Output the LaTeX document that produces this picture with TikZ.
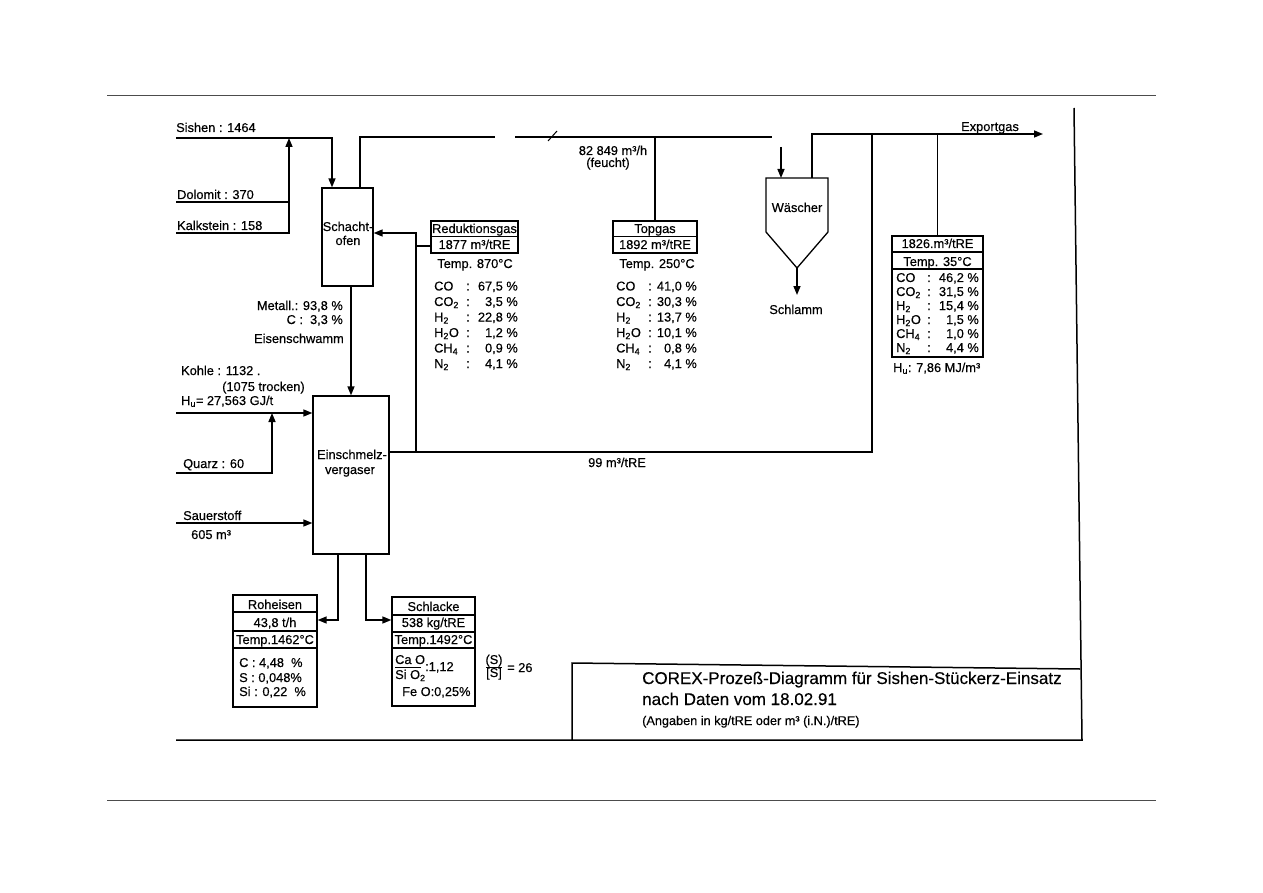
\documentclass[tikz,border=0pt]{standalone}
\usepackage{fontspec}
\setmainfont{Liberation Sans}[FakeBold=0.35]
\usetikzlibrary{arrows.meta}
\begin{document}
\begin{tikzpicture}[x=1pt,y=-1pt,
  ln/.style={line width=1.5pt},
  arr/.style={line width=1.5pt,-{Triangle[length=9pt,width=7pt]}},
  bx/.style={draw,line width=1.3pt,inner sep=0pt},
  sep/.style={line width=1.1pt},
  t/.style={inner sep=0pt,font=\fontsize{12.8}{15}\selectfont},
  ts/.style={inner sep=0pt,font=\fontsize{12.7}{15}\selectfont},
  tb/.style={inner sep=0pt,font=\fontsize{17}{20}\selectfont},
  page/.style={line width=0.8pt,draw=black!70},
]
\useasboundingbox (0,0) rectangle (1263,893);
\fill[white] (0,0) rectangle (1263,893);

% page rules
\draw[page] (107,95) -- (1156,95);
\draw[page] (107,800) -- (1156,800);

% ---------- boxes ----------
\node[bx,minimum width=51pt,minimum height=98pt] (schacht) at (347.5,237) {};
\node[bx,minimum width=76pt,minimum height=158pt] (verg) at (351,475) {};
\node[bx,minimum width=87pt,minimum height=32pt] (rg) at (474.5,237) {};
\draw[sep] (431,236.5) -- (518,236.5);
\node[bx,minimum width=84pt,minimum height=32pt] (tg) at (655,237) {};
\draw[sep] (613,236.5) -- (697,236.5);
\node[bx,minimum width=91pt,minimum height=121pt] (ex) at (937.5,296.5) {};
\draw[sep] (892,252) -- (983,252);
\draw[sep] (892,269) -- (983,269);
\node[bx,minimum width=84pt,minimum height=112pt] (roh) at (275,651) {};
\draw[sep] (233,612) -- (317,612);
\draw[sep] (233,631) -- (317,631);
\draw[sep] (233,648) -- (317,648);
\node[bx,minimum width=83pt,minimum height=109pt] (sl) at (433.5,651.5) {};
\draw[sep] (392,615) -- (475,615);
\draw[sep] (392,632) -- (475,632);
\draw[sep] (392,648) -- (475,648);
% Waescher
\draw[bx] (766,178) -- (828,178) -- (828,232) -- (797,268) -- (766,232) -- cycle;
\coordinate (win) at (781,178);
\coordinate (wout) at (812,178);
\coordinate (wbot) at (797,268);

% ---------- connectors ----------
\coordinate (sishen) at (176,138);
\draw[arr] (sishen) -| ([xshift=-15.5pt]schacht.north);
\coordinate (kalk) at (176,233);
\coordinate (kj) at (289,138);
\draw[arr] (kalk) -| (kj);
\coordinate (dolo) at (176,202);
\draw[ln] (dolo) -- (dolo -| kj);

\coordinate (gap1) at (495,137);
\coordinate (gap2) at (515,137);
\coordinate (wl) at (772,137);
\draw[ln] ([xshift=12.5pt]schacht.north) |- (gap1);
\draw[ln] (gap2) -- (wl);
\draw[line width=1pt] (548,141) -- (557,131);
\draw[ln] (tg.north |- gap2) -- (tg.north);

\coordinate (win0) at (781,147);
\draw[arr] (win0) -- (win);
\coordinate (exp) at (1043,134);
\draw[arr] (wout) |- (exp);
\coordinate (wsl) at (797,295);
\draw[arr] (wbot) -- (wsl);

\coordinate (vr) at (389,452);
\coordinate (jr) at (872,452);
\draw[ln] (vr) -- (jr) -- (jr |- exp);
\draw[ln] (ex.north |- exp) -- (ex.north);
\coordinate (jb) at (416,452);
\draw[arr] (jb) |- ([yshift=4pt]schacht.east);
\coordinate (rgs) at ([yshift=-9pt]rg.west);
\draw[ln] (rgs) -- (rgs -| jb);

\draw[arr] (schacht.south -| verg.north) -- (verg.north);
\coordinate (kohle) at (176,413);
\draw[arr] (kohle) -- (kohle -| verg.west);
\coordinate (quarz) at (176,473);
\coordinate (qj) at (272,413);
\draw[arr] (quarz) -| (qj);
\coordinate (sauer) at (176,523);
\draw[arr] (sauer) -- (sauer -| verg.west);
\draw[arr] ([xshift=-13pt]verg.south) |- ([yshift=31pt]roh.east);
\draw[arr] ([xshift=15pt]verg.south) |- ([yshift=31.5pt]sl.west);

% frame
\coordinate (fbl) at (176,740);
\coordinate (fbr) at (1082,740);
\coordinate (ftr) at (1074,108);
\draw[ln] (fbl) -- (fbr) -- (ftr);
\coordinate (tbl) at (572,740);
\coordinate (ttl) at (572,663);
\coordinate (ttr) at (1080,669);
\draw[ln] (tbl) -- (ttl) -- (ttr);

% ---------- texts ----------
\node[t,anchor=base west] (l1) at (176,132) {Sishen : 1464};
\node[t,anchor=base west] (l2) at (177,199) {Dolomit : 370};
\node[t,anchor=base west] (l3) at (177,230) {Kalkstein : 158};
\node[t,anchor=base] (l4) at (348,231) {Schacht-};
\node[t,anchor=base] (l5) at (348,245) {ofen};
\node[t,anchor=base] (l6) at (613,155) {82 849 m³/h};
\node[t,anchor=base] (l7) at (608,167) {(feucht)};

\node[t,anchor=base] (rg1) at (474.5,233) {Reduktionsgas};
\node[t,anchor=base] (rg2) at (474.5,249) {1877 m³/tRE};
\node[t,anchor=base] (rg3) at (475,268) {Temp. 870°C};
\node[t,anchor=base] (tg1) at (655,233) {Topgas};
\node[t,anchor=base] (tg2) at (655,249) {1892 m³/tRE};
\node[t,anchor=base] (tg3) at (657,268) {Temp. 250°C};

\foreach \l/\v [count=\i] in {CO/{67,5 \%},CO\textsubscript{2}/{3,5 \%},H\textsubscript{2}/{22,8 \%},H\textsubscript{2}O/{1,2 \%},CH\textsubscript{4}/{0,9 \%},N\textsubscript{2}/{4,1 \%}}{
  \pgfmathsetmacro\yy{290.5+15.5*(\i-1)}
  \node[t,anchor=base west] (rgl\i) at (434,\yy) {\l};
  \node[t,anchor=base] (rgc\i) at (468,\yy) {:};
  \node[t,anchor=base east] (rgv\i) at (518,\yy) {\v};
}
\foreach \l/\v [count=\i] in {CO/{41,0 \%},CO\textsubscript{2}/{30,3 \%},H\textsubscript{2}/{13,7 \%},H\textsubscript{2}O/{10,1 \%},CH\textsubscript{4}/{0,8 \%},N\textsubscript{2}/{4,1 \%}}{
  \pgfmathsetmacro\yy{290.5+15.5*(\i-1)}
  \node[t,anchor=base west] (tgl\i) at (616,\yy) {\l};
  \node[t,anchor=base] (tgc\i) at (650,\yy) {:};
  \node[t,anchor=base east] (tgv\i) at (697,\yy) {\v};
}

\node[t,anchor=base west] (e1) at (961,131) {Exportgas};
\node[t,anchor=base] (e2) at (797,212) {Wäscher};
\node[t,anchor=base] (e3) at (796,314) {Schlamm};
\node[t,anchor=base] (ex1) at (937.5,248) {1826.m³/tRE};
\node[t,anchor=base] (ex2) at (937.5,266) {Temp. 35°C};
\foreach \l/\v [count=\i] in {CO/{46,2 \%},CO\textsubscript{2}/{31,5 \%},H\textsubscript{2}/{15,4 \%},H\textsubscript{2}O/{1,5 \%},CH\textsubscript{4}/{1,0 \%},N\textsubscript{2}/{4,4 \%}}{
  \pgfmathsetmacro\yy{282+14*(\i-1)}
  \node[t,anchor=base west] (exl\i) at (896,\yy) {\l};
  \node[t,anchor=base] (exc\i) at (929,\yy) {:};
  \node[t,anchor=base east] (exv\i) at (979,\yy) {\v};
}
\node[t,anchor=base west] (ex3) at (893,372) {H\textsubscript{u}: 7,86 MJ/m³};

\node[t,anchor=base east] (m1) at (343,310) {Metall.: 93,8 \%};
\node[t,anchor=base east] (m2) at (343,324) {C :\ \ 3,3 \%};
\node[t,anchor=base east] (m3) at (344,343) {Eisenschwamm};

\node[t,anchor=base west] (k1) at (181,375) {Kohle : 1132 .};
\node[t,anchor=base west] (k2) at (222,391) {(1075 trocken)};
\node[t,anchor=base west] (k3) at (181,405) {H\textsubscript{u}= 27,563 GJ/t};
\node[t,anchor=base west] (q1) at (183,468) {Quarz : 60};
\node[t,anchor=base] (v1) at (352,459) {Einschmelz-};
\node[t,anchor=base] (v2) at (350,474) {vergaser};
\node[t,anchor=base] (v3) at (617,467) {99 m³/tRE};
\node[t,anchor=base west] (s1) at (183,520) {Sauerstoff};
\node[t,anchor=base west] (s2) at (191,539) {605 m³};

\node[t,anchor=base] (r1) at (275,609) {Roheisen};
\node[t,anchor=base] (r2) at (275,627) {43,8 t/h};
\node[t,anchor=base] (r3) at (275,644) {Temp.1462°C};
\node[t,anchor=base west] (r4) at (239,667) {C : 4,48\ \ \%};
\node[t,anchor=base west] (r5) at (239,682) {S : 0,048\%};
\node[t,anchor=base west] (r6) at (239,696) {Si : 0,22\ \ \%};

\node[t,anchor=base] (sl1) at (433.5,611) {Schlacke};
\node[t,anchor=base] (sl2) at (433.5,627) {538 kg/tRE};
\node[t,anchor=base] (sl3) at (433.5,644) {Temp.1492°C};
\node[t,anchor=base west] (sl4) at (395,664) {Ca O};
\draw[line width=0.9pt] (395,667) -- (421,667);
\node[t,anchor=base west] (sl5) at (395,679) {Si O\textsubscript{2}};
\node[t,anchor=base west] (sl6) at (425,671) {:1,12};
\node[t,anchor=base west] (sl7) at (402,696) {Fe O:0,25\%};
\node[t,anchor=base] (f1) at (494,664) {(S)};
\draw[line width=0.9pt] (486,667) -- (502,667);
\node[t,anchor=base] (f2) at (494,677) {[S]};
\node[t,anchor=base west] (f3) at (507,672) {= 26};

\node[tb,anchor=base west] (ti1) at (642,684) {COREX-Prozeß-Diagramm für Sishen-Stückerz-Einsatz};
\node[tb,anchor=base west] (ti2) at (642,705) {nach Daten vom 18.02.91};
\node[ts,anchor=base west] (ti3) at (642,725) {(Angaben in kg/tRE oder m³ (i.N.)/tRE)};
\end{tikzpicture}
\end{document}
